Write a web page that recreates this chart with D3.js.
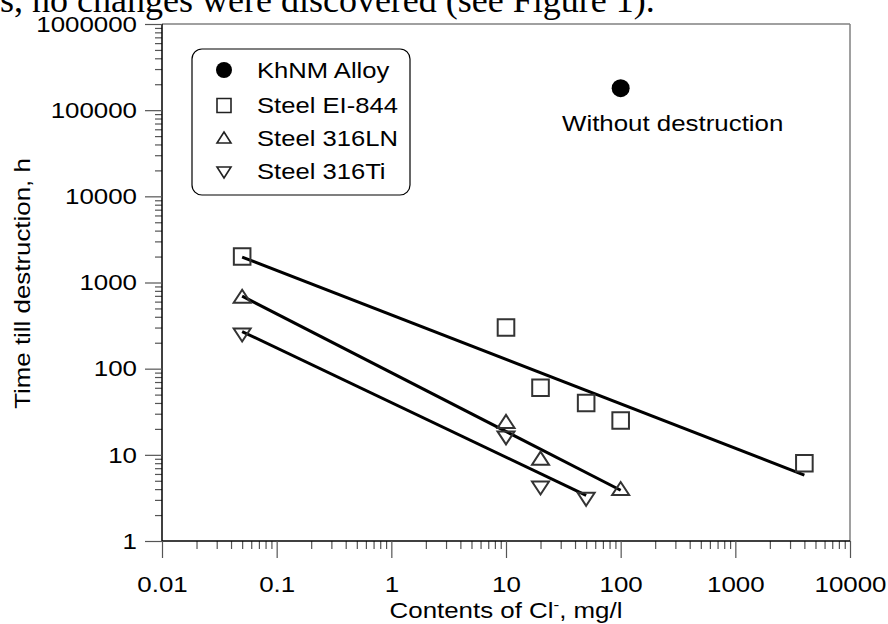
<!DOCTYPE html>
<html>
<head>
<meta charset="utf-8">
<script src="https://cdn.jsdelivr.net/npm/d3@7"></script>
<style>
  html, body { margin: 0; padding: 0; background: #fff; overflow: hidden; }
  svg { display: block; }
</style>
</head>
<body>
<svg id="chart" width="888" height="624"></svg>
<script>
// Chloride content (mg/l) vs. time till destruction (h)
const khnmX = [100];
const khnmY = [180000];
const ei844X = [0.05, 10, 20, 50, 100, 4000];
const ei844Y = [2000, 300, 60, 40, 25, 8];
const ln316X = [0.05, 10, 20, 100];
const ln316Y = [680, 24, 9, 4];
const ti316X = [0.05, 10, 20, 50];
const ti316Y = [250, 16, 4.2, 3.1];

const xTickLabels = ["0.01", "0.1", "1", "10", "100", "1000", "10000"];
const yTickLabels = ["1", "10", "100", "1000", "10000", "100000", "1000000"];
const legendLabels = ["KhNM Alloy", "Steel EI-844", "Steel 316LN", "Steel 316Ti"];

const svg = d3.select("#chart");
const font = "Arial, 'Liberation Sans', sans-serif";
const FS = 22.5;      // label font size
const STRETCH = 1.15; // the sans labels are set slightly wide

// widen a text element horizontally by STRETCH
function widen(sel) {
  sel.each(function () {
    const w = this.getComputedTextLength();
    d3.select(this).attr("textLength", w * STRETCH).attr("lengthAdjust", "spacingAndGlyphs");
  });
}

const x = d3.scaleLog().domain([0.01, 10000]).range([162, 850]);
const y = d3.scaleLog().domain([1, 1e6]).range([541, 24]);

// running text above the figure
svg.append("text")
  .attr("x", 0).attr("y", 12)
  .attr("font-family", "'Liberation Serif', 'Times New Roman', serif")
  .attr("font-size", 36)
  .text("s, no changes were discovered (see Figure 1).");

// frame: top and right edges
svg.append("line").attr("x1", x(0.01)).attr("x2", x(10000)).attr("y1", y(1e6)).attr("y2", y(1e6))
  .attr("stroke", "#808080").attr("stroke-width", 1.5);
svg.append("line").attr("x1", x(10000)).attr("x2", x(10000)).attr("y1", y(1e6)).attr("y2", y(1))
  .attr("stroke", "#808080").attr("stroke-width", 1.5);

// minor tick values for each decade
function minors(lo, hi) {
  const out = [];
  for (let e = lo; e < hi; e++) for (let k = 2; k <= 9; k++) out.push(k * Math.pow(10, e));
  return out;
}
const xMajor = xTickLabels.map(Number);
const yMajor = yTickLabels.map(Number);

// X axis
const gx = svg.append("g").attr("transform", `translate(0,${y(1)})`);
gx.append("g").call(d3.axisBottom(x).tickValues(minors(-2, 4)).tickSize(8).tickFormat(""))
  .call(g => g.select(".domain").remove())
  .call(g => g.selectAll("line").attr("stroke", "#555").attr("stroke-width", 1.2));
gx.append("g").call(d3.axisBottom(x).tickValues(xMajor).tickSize(17).tickPadding(18)
    .tickFormat((d, i) => xTickLabels[i]))
  .call(g => g.select(".domain").attr("d", `M${x(0.01)},0H${x(10000)}`).attr("stroke", "#000").attr("stroke-width", 1.5))
  .call(g => g.selectAll("line").attr("stroke", "#555").attr("stroke-width", 1.2))
  .call(g => g.selectAll("text").attr("font-family", font).attr("font-size", FS).attr("fill", "#000").call(widen));

// Y axis
const gy = svg.append("g").attr("transform", `translate(${x(0.01)},0)`);
gy.append("g").call(d3.axisLeft(y).tickValues(minors(0, 6)).tickSize(7).tickFormat(""))
  .call(g => g.select(".domain").remove())
  .call(g => g.selectAll("line").attr("stroke", "#555").attr("stroke-width", 1.2));
gy.append("g").call(d3.axisLeft(y).tickValues(yMajor).tickSize(17).tickPadding(8)
    .tickFormat((d, i) => yTickLabels[i]))
  .call(g => g.select(".domain").attr("d", `M0,${y(1e6)}V${y(1)}`).attr("stroke", "#000").attr("stroke-width", 1.5))
  .call(g => g.selectAll("line").attr("stroke", "#555").attr("stroke-width", 1.2))
  .call(g => g.selectAll("text").attr("font-family", font).attr("font-size", FS).attr("fill", "#000").call(widen));

// axis titles
svg.append("g").attr("transform", `translate(${(x(0.01) + x(10000)) / 2},618) scale(${STRETCH},1)`)
  .append("text")
  .attr("text-anchor", "middle").attr("font-family", font).attr("font-size", FS)
  .call(t => {
    t.append("tspan").text("Contents of Cl");
    t.append("tspan").attr("dy", -8).attr("font-size", 15).text("-");
    t.append("tspan").attr("dy", 8).text(", mg/l");
  });
svg.append("g").attr("transform", `translate(30,${(y(1) + y(1e6)) / 2 + 1}) rotate(-90) scale(${STRETCH},1)`)
  .append("text")
  .attr("text-anchor", "middle").attr("font-family", font).attr("font-size", FS)
  .text("Time till destruction, h");

// power-law least-squares fit in log-log space, drawn across the series' x range
function fitLine(xs, ys) {
  const lx = xs.map(Math.log10), ly = ys.map(Math.log10);
  const mx = d3.mean(lx), my = d3.mean(ly);
  const b = d3.sum(lx, (v, i) => (v - mx) * (ly[i] - my)) / d3.sum(lx, v => (v - mx) ** 2);
  const a = my - b * mx;
  const [x0, x1] = d3.extent(xs);
  return [[x0, Math.pow(10, a + b * Math.log10(x0))], [x1, Math.pow(10, a + b * Math.log10(x1))]];
}
const line = d3.line().x(d => x(d[0])).y(d => y(d[1]));
[[ei844X, ei844Y], [ln316X, ln316Y], [ti316X, ti316Y]].forEach(([xs, ys]) => {
  svg.append("path").attr("d", line(fitLine(xs, ys)))
    .attr("fill", "none").attr("stroke", "#000").attr("stroke-width", 3);
});

// marker shapes
function square(s) { return `M${-s},${-s}H${s}V${s}H${-s}Z`; }
function triUp(w, h) { return `M0,${-h * 0.55}L${w},${h * 0.45}L${-w},${h * 0.45}Z`; }
function triDown(w, h) { return `M0,${h * 0.55}L${w},${-h * 0.45}L${-w},${-h * 0.45}Z`; }

function drawPoints(xs, ys, d) {
  svg.append("g").selectAll("path").data(xs.map((v, i) => [v, ys[i]])).join("path")
    .attr("transform", p => `translate(${x(p[0])},${y(p[1])})`)
    .attr("d", d)
    .attr("fill", "none").attr("stroke", "#333").attr("stroke-width", 2);
}
drawPoints(ei844X, ei844Y, square(8.3));
drawPoints(ln316X, ln316Y, triUp(8.5, 13));
drawPoints(ti316X, ti316Y, triDown(8.5, 13));

svg.append("g").selectAll("circle").data(khnmX.map((v, i) => [v, khnmY[i]])).join("circle")
  .attr("cx", d => x(d[0])).attr("cy", d => y(d[1])).attr("r", 9).attr("fill", "#000");
svg.append("g").attr("transform", `translate(${x(khnmX[0]) + 52},131) scale(${STRETCH},1)`)
  .append("text")
  .attr("text-anchor", "middle").attr("font-family", font).attr("font-size", FS)
  .text("Without destruction");

// legend
const lg = svg.append("g").attr("transform", "translate(192,49)");
lg.append("rect").attr("width", 218).attr("height", 146).attr("rx", 10)
  .attr("fill", "#fff").attr("stroke", "#000").attr("stroke-width", 1.2);
const markY = [21, 56.5, 89, 123];
const textY = [29, 64, 97, 130];
const legendMarks = [
  g => g.append("circle").attr("r", 8).attr("fill", "#000"),
  g => g.append("path").attr("d", square(7)).attr("fill", "none").attr("stroke", "#222").attr("stroke-width", 1.6),
  g => g.append("path").attr("d", triUp(7, 11)).attr("fill", "none").attr("stroke", "#222").attr("stroke-width", 1.6),
  g => g.append("path").attr("d", triDown(7, 11)).attr("fill", "none").attr("stroke", "#222").attr("stroke-width", 1.6)
];
legendLabels.forEach((lab, i) => {
  legendMarks[i](lg.append("g").attr("transform", `translate(32,${markY[i]})`));
  lg.append("g").attr("transform", `translate(65,${textY[i]}) scale(${STRETCH * 0.99},1)`)
    .append("text").attr("font-family", font).attr("font-size", FS).text(lab);
});
</script>
</body>
</html>
